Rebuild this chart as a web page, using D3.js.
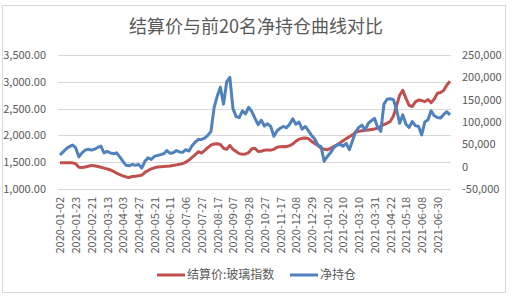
<!DOCTYPE html>
<html>
<head>
<meta charset="utf-8">
<script src="https://cdn.jsdelivr.net/npm/d3@7"></script>
<style>
  body { margin: 0; background: #fff; }
  text { font-family: "Noto Sans CJK SC", "Noto Sans", sans-serif; }
</style>
</head>
<body>
<div id="chart"></div>
<script>
// category labels shown on the x axis (every 15th trading day)
const tickLabels = [
  "2020-01-02", "2020-01-23", "2020-02-21", "2020-03-13", "2020-04-03",
  "2020-04-27", "2020-05-21", "2020-06-11", "2020-07-06", "2020-07-27",
  "2020-08-17", "2020-09-07", "2020-09-28", "2020-10-27", "2020-11-17",
  "2020-12-08", "2020-12-29", "2021-01-20", "2021-02-10", "2021-03-10",
  "2021-03-31", "2021-04-22", "2021-05-18", "2021-06-08", "2021-06-30"
];
const tickEvery = 15;   // trading days between labels
const sampleStep = 3;   // series below read every 3rd trading day
const lastDay = 372;

// 结算价:玻璃指数 (left axis)
const settle = [
  1490, 1490, 1492, 1490, 1488, 1470, 1405, 1400, 1410, 1425,
  1440, 1435, 1420, 1405, 1390, 1375, 1355, 1330, 1295, 1270,
  1245, 1225, 1215, 1235, 1240, 1245, 1260, 1310, 1345, 1375,
  1395, 1410, 1415, 1420, 1425, 1428, 1440, 1450, 1460, 1475,
  1500, 1540, 1590, 1640, 1695, 1670, 1720, 1770, 1820, 1840,
  1845, 1830, 1760, 1740, 1815, 1740, 1700, 1660, 1650, 1655,
  1680, 1750, 1760, 1700, 1705, 1725, 1730, 1725, 1740, 1780,
  1790, 1795, 1790, 1810, 1840, 1890, 1930, 1945, 1950, 1940,
  1890, 1850, 1810, 1765, 1740, 1730, 1760, 1790, 1820, 1860,
  1900, 1940, 1975, 2010, 2060, 2075, 2085, 2095, 2100, 2110,
  2120, 2135, 2170, 2200, 2230, 2260, 2360, 2550, 2750, 2840,
  2690, 2560, 2540, 2625, 2660, 2650, 2630, 2670, 2610, 2680,
  2785, 2800, 2840, 2940, 3010
];

// 净持仓 (right axis)
const netPos = [
  26000, 33000, 40000, 45000, 48500, 42000, 22000, 31000, 37000, 39000,
  37000, 39000, 43000, 46000, 31000, 34000, 31000, 29000, 31000, 22000,
  12000, 3000, 2000, 5000, 3000, 5000, -3000, 12000, 20000, 16000,
  23000, 25000, 27000, 29000, 36000, 30000, 31000, 36000, 33000, 32000,
  38000, 35000, 47000, 55000, 61000, 61000, 64000, 70000, 79000, 132000,
  158000, 178000, 140000, 190000, 200000, 130000, 112000, 110000, 125000, 118000,
  133000, 123000, 108000, 94000, 104000, 91000, 96000, 90000, 68000, 80000,
  86000, 90000, 87000, 95000, 107000, 95000, 100000, 84000, 90000, 80000,
  70000, 62000, 48000, 45000, 12000, 23000, 31000, 42000, 48000, 50000,
  46000, 52000, 38000, 58000, 78000, 88000, 93000, 82000, 97000, 103000,
  108000, 88000, 79000, 140000, 151000, 152000, 150000, 128000, 97000, 116000,
  95000, 88000, 101000, 92000, 90000, 71000, 100000, 105000, 125000, 114000,
  110000, 109000, 117000, 123000, 116000
];

const leftTicks = [1000, 1500, 2000, 2500, 3000, 3500];
const rightTicks = [-50000, 0, 50000, 100000, 150000, 200000, 250000];

const width = 512, height = 298;
const plot = { left: 58, right: 451, top: 55, bottom: 189 };
const textColor = "#595959";
const redColor = "#C0504D", blueColor = "#4F81BD";

const svg = d3.select("#chart").append("svg")
  .attr("width", width)
  .attr("height", height);

// chart frame
svg.append("rect")
  .attr("x", 2.5).attr("y", 5.5)
  .attr("width", 503).attr("height", 287)
  .attr("fill", "#fff")
  .attr("stroke", "#d9d9d9");

var xScale = d3.scaleLinear()
  .domain([0, lastDay])
  .range([60, 450]);

var yLeft = d3.scaleLinear()
  .domain([1000, 3500])
  .range([plot.bottom, plot.top]);

var yRight = d3.scaleLinear()
  .domain([-50000, 250000])
  .range([plot.bottom, plot.top]);

// title
svg.append("text")
  .attr("x", 256).attr("y", 33)
  .attr("text-anchor", "middle")
  .attr("font-size", 18)
  .attr("fill", textColor)
  .text("结算价与前20名净持仓曲线对比");

// horizontal gridlines (primary axis)
svg.append("g")
  .selectAll("line")
  .data(leftTicks)
  .enter().append("line")
  .attr("x1", plot.left).attr("x2", plot.right)
  .attr("y1", d => Math.round(yLeft(d)) + 0.5)
  .attr("y2", d => Math.round(yLeft(d)) + 0.5)
  .attr("stroke", "#d9d9d9");

// left axis
var leftAxis = svg.append("g")
  .attr("transform", "translate(46,0)")
  .call(d3.axisLeft(yLeft).tickValues(leftTicks)
    .tickFormat(d3.format(",.2f")).tickSize(0).tickPadding(0));
leftAxis.select(".domain").remove();
leftAxis.selectAll("text").attr("font-size", 11).attr("fill", textColor);

// right axis
var rightAxis = svg.append("g")
  .attr("transform", "translate(462,0)")
  .call(d3.axisRight(yRight).tickValues(rightTicks)
    .tickFormat(d => d3.format(",")(d).replace("\u2212", "-")).tickSize(0).tickPadding(0));
rightAxis.select(".domain").remove();
rightAxis.selectAll("text").attr("font-size", 11).attr("fill", textColor);

// bottom axis, rotated date labels
var xAxis = svg.append("g")
  .attr("transform", "translate(0," + plot.bottom + ")")
  .call(d3.axisBottom(xScale)
    .tickValues(tickLabels.map((d, i) => i * tickEvery))
    .tickFormat((d, i) => tickLabels[i]).tickSize(0));
xAxis.select(".domain").remove();
xAxis.selectAll("text")
  .attr("font-size", 11)
  .attr("fill", textColor)
  .attr("text-anchor", "end")
  .attr("transform", "rotate(-90)")
  .attr("x", -8)
  .attr("y", 0)
  .attr("dy", "0.35em");

// series lines
var settleLine = d3.line()
  .x((d, i) => xScale(i * sampleStep))
  .y(d => yLeft(d));

var netLine = d3.line()
  .x((d, i) => xScale(i * sampleStep))
  .y(d => yRight(d));

svg.append("path")
  .datum(settle)
  .attr("fill", "none")
  .attr("stroke", redColor)
  .attr("stroke-width", 3)
  .attr("stroke-linejoin", "round")
  .attr("d", settleLine);

svg.append("path")
  .datum(netPos)
  .attr("fill", "none")
  .attr("stroke", blueColor)
  .attr("stroke-width", 3)
  .attr("stroke-linejoin", "round")
  .attr("d", netLine);

// legend
var legendItems = [
  { name: "结算价:玻璃指数", color: redColor, x: 157 },
  { name: "净持仓", color: blueColor, x: 290 }
];
var legend = svg.append("g").selectAll("g")
  .data(legendItems)
  .enter().append("g")
  .attr("transform", d => "translate(" + d.x + ",275)");
legend.append("line")
  .attr("x1", 0).attr("x2", 28)
  .attr("stroke", d => d.color)
  .attr("stroke-width", 3);
legend.append("text")
  .attr("x", 30).attr("y", 0)
  .attr("dy", "0.35em")
  .attr("font-size", 12)
  .attr("fill", textColor)
  .text(d => d.name);
</script>
</body>
</html>
